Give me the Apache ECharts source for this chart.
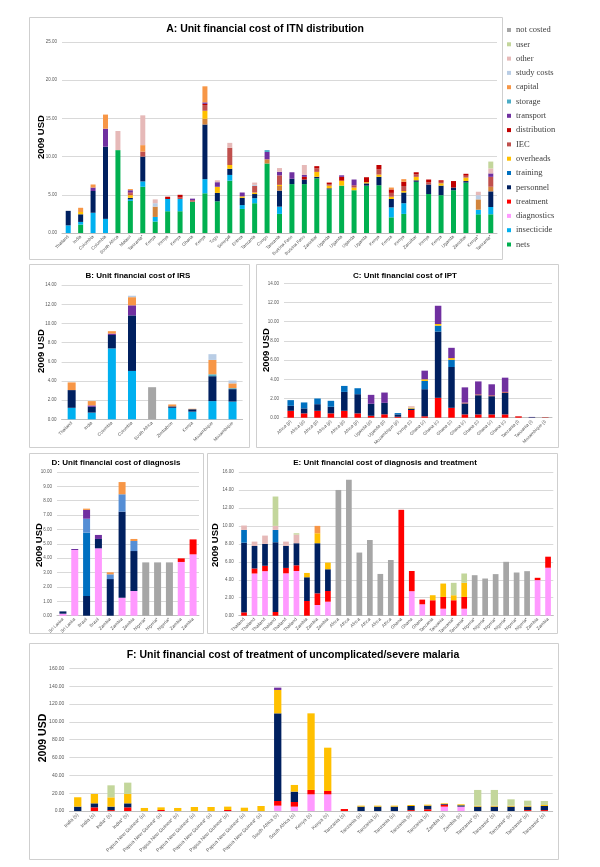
<!DOCTYPE html>
<html><head><meta charset="utf-8">
<script src="https://cdn.jsdelivr.net/npm/echarts/dist/echarts.min.js"></script>
<style>html,body{margin:0;padding:0;background:#fff}#c{width:600px;height:867px}</style>
</head><body><div id="c"></div><script>
// ---------- Panel A: ITN distribution ----------
const aCats = ['Thailand','India','Colombia','Colombia','South Africa','Malawi','Tanzania*','Kenya','Kenya','Kenya','Ghana','Kenya','Togo','Senegal','Eritrea','Tanzania','Congo','Tanzania','Burkina Faso','Burkina Faso','Zanzibar','Uganda','Uganda','Uganda','Uganda','Kenya','Kenya','Kenya','Zanzibar','Kenya','Kenya','Uganda','Zanzibar','Kenya*','Tanzania*'];
const aNets        = [0,1.1,0,0,10.85,4.2,6.05,1.5,2.85,2.85,4.1,5.2,4.15,6.85,3.15,3.9,9.1,2.5,6.4,6.4,7.15,5.7,6.2,5.6,6.2,6.25,2.05,2.5,6.7,5.1,4.95,5.6,6.6,2.45,2.45];
const aInsecticide = [1.0,0.35,2.65,1.85,0,0.2,0.7,0.6,1.6,1.6,0,1.85,0,0.75,0.5,0.65,0,0.95,0,0,0,0,0,0,0,0,1.3,1.4,0,0,0,0,0,0.6,0.95];
const aPersonnel   = [1.9,1.0,2.85,9.45,0,0.2,3.25,0,0,0,0,7.15,1.1,0.8,0.95,0.55,0,2.1,0.7,0.6,0.2,0.15,0,0,0.3,1.1,1.1,1.4,0.2,1.25,1.25,0.35,0.2,0,2.05];
const aSupervision = [0,0,0,0,0,0,0,1.35,0,0,0,0.75,0,0,0,0,0.55,0.6,0,0,0,0,0,0,0,0,0,0,0,0,0,0,0,1.35,0.6];
const aOverheads   = [0,0.3,0,0,0,0.35,0,0,0,0,0,1.05,0.8,0.5,0.2,0.2,0,0.15,0,0,0.65,0.35,0.65,0.35,0.15,0.3,0.3,0.2,0.45,0,0.3,0,0.45,0,0];
const aIEC         = [0,0,0,0,0,0.25,0.65,0,0,0.2,0.2,0.75,0,2.25,0,0.85,0,1.25,0,0,0.45,0.2,0,0.3,0,0.7,0.5,0.65,0.35,0.3,0.2,0,0.25,0,1.3];
const aDistribution= [0,0,0,0,0,0.1,0,0,0.3,0.35,0,0.15,0,0,0,0,0,0,0,0.35,0.3,0.2,0.5,0,0.65,0.55,0.45,0.55,0.25,0.35,0.2,0.85,0.25,0,0];
const aTransport   = [0,0,0.45,2.35,0,0.3,0,0,0,0,0.2,0.2,0.6,0,0.5,0,0.95,0.45,0.85,0.25,0,0,0.2,0.75,0,0,0,0,0,0,0,0,0,0,0.45];
const aStorage     = [0,0,0,0,0,0,0,0,0,0,0,0,0,0,0,0,0.25,0,0,0,0,0,0,0,0,0,0,0,0,0,0,0,0,0,0];
const aCapital     = [0,0.55,0.4,1.85,0,0.15,0.85,0,0,0,0,2.1,0,0,0,0,0,0,0,0,0,0,0,0,0,0,0.25,0.35,0,0,0,0,0,0,0];
const aStudy       = [0,0,0,0,0,0,0,0.45,0,0,0,0,0,0,0,0.15,0,0,0,0,0,0,0,0,0,0,0,0,0,0,0,0,0,0.55,0];
const aOther       = [0,0,0,0,2.5,0,3.9,0.5,0,0,0,0,0.25,0.65,0,0.3,0,0.5,0,1.3,0,0,0,0,0,0,0,0,0,0,0,0,0,0.45,0.65];
const aUser        = [0,0,0,0,0,0,0,0,0,0,0,0,0,0,0,0,0,0,0,0,0,0,0,0,0,0,0,0,0,0,0,0,0,0,0.9];
const legendNames = ['not costed','user','other','study costs','capital','storage','transport','distribution','IEC','overheads','training','personnel','treatment','diagnostics','insecticide','nets'];

// ---------- Panel B: IRS ----------
const bCats = ['Thailand','India','Colombia','Colombia','South Africa','Zimbabwe','Kenya','Mozambique','Mozambique'];
const bInsecticide = [1.2,0.7,7.4,5.05,0,1.2,0.8,1.9,1.85];
const bPersonnel   = [1.85,0.6,1.4,5.8,0,0.15,0.25,2.6,1.3];
const bTransport   = [0,0.15,0.15,1.05,0,0,0,0,0];
const bStorage     = [0,0,0,0,0,0,0,0.2,0.1];
const bCapital     = [0.8,0.45,0.25,0.85,0,0.2,0.05,1.5,0.5];
const bStudy       = [0,0,0,0.15,0,0,0,0.6,0.3];
const bNotCosted   = [0,0,0,0,3.35,0,0,0,0];

// ---------- Panel C: IPT ----------
const cCats = ['Africa (p)','Africa (p)','Africa (p)','Africa (p)','Africa (p)','Africa (p)','Uganda (p)','Uganda (p)','Mozambique (p)','Kenya (c)','Ghana (c)','Ghana (c)','Ghana (c)','Ghana (c)','Ghana (c)','Ghana (c)','Ghana (c)','Tanzania (i)','Tanzania (i)','Mozambique (i)'];
const cTreatment = [0.72,0.45,0.72,0.45,0.72,0.45,0.2,0.35,0.1,0.8,0.15,2.07,1.03,0.34,0.34,0.34,0.34,0.14,0,0];
const cPersonnel = [0.52,0.52,0.69,0.69,1.97,2.0,1.25,1.2,0.24,0.15,2.82,6.9,4.25,1.14,2.0,1.9,2.25,0,0.05,0];
const cTraining  = [0.59,0.62,0.59,0.62,0.62,0.62,0,0,0.14,0,0.86,0.62,0.75,0,0,0,0,0,0,0];
const cOverheads = [0,0,0,0,0,0,0,0,0,0.1,0.17,0.17,0.18,0,0,0,0,0,0,0];
const cIEC       = [0,0,0,0,0,0,0,0,0,0,0,0,0,0.1,0.1,0.1,0.1,0.03,0,0.07];
const cTransport = [0,0,0,0,0,0,0.93,1.07,0,0,0.9,1.9,1.07,1.58,1.34,1.14,1.48,0,0.03,0];
const cOther     = [0,0,0,0,0,0,0,0,0,0.15,0,0,0,0,0,0,0,0,0,0];

// ---------- Panel D: diagnosis ----------
const dCats = ['Sri Lanka','Sri Lanka','Brazil','Brazil','Zambia','Zambia','Zambia','Nigeria*','Nigeria*','Nigeria*','Zambia','Zambia'];
const dDiagnostics = [0.14,4.57,0,4.69,0,1.25,1.72,0,0,0,3.74,4.27];
const dTreatment   = [0,0,0,0,0,0,0,0,0,0,0.25,1.04];
const dPersonnel   = [0.16,0,1.37,0.65,2.55,5.99,2.78,0,0,0,0,0];
const dTraining    = [0,0,4.41,0,0,0,0,0,0,0,0,0];
const dManagement  = [0,0,0.97,0,0.33,1.21,0.7,0,0,0,0,0];
const dTransport   = [0,0.07,0.61,0.28,0,0,0,0,0,0,0,0];
const dCapital     = [0,0,0.09,0,0.14,0.85,0.14,0,0,0,0,0];
const dNotCosted   = [0,0,0,0,0,0,0,3.71,3.71,3.71,0,0];

// ---------- Panel E: diagnosis and treatment ----------
const eCats = ['Thailand','Thailand','Thailand','Thailand','Thailand','Thailand','Zambia','Zambia','Zambia','Africa','Africa','Africa','Africa','Africa','Africa','Ghana','Ghana','Ghana','Tanzania','Tanzania','Tanzania*','Tanzania*','Nigeria*','Nigeria*','Nigeria*','Nigeria*','Nigeria*','Nigeria*','Zambia','Zambia'];
const eDiagnostics = [0,4.7,4.96,0,4.72,4.98,0,1.19,1.56,0,0,0,0,0,0,0,2.73,1.27,0,0.78,0,0.78,0,0,0,0,0,0,3.96,5.34];
const eTreatment   = [0.37,0.56,0.6,0.41,0.6,0.63,1.64,1.3,1.19,0,0,0,0,0,0,11.79,2.25,0.52,1.72,1.31,1.72,1.31,0,0,0,0,0,0,0.26,1.23];
const ePersonnel   = [7.76,2.5,2.43,7.77,2.45,2.46,2.64,5.58,2.42,0,0,0,0,0,0,0,0,0,0,0,0,0,0,0,0,0,0,0,0,0];
const eTraining    = [1.42,0,0,1.37,0,0,0,0,0,0,0,0,0,0,0,0,0,0,0,0,0,0,0,0,0,0,0,0,0,0];
const eOverheads   = [0,0,0,0,0,0,0.48,1.11,0.74,0,0,0,0,0,0,0,0,0,0.56,1.49,0.56,1.57,0,0,0,0,0,0,0,0];
const eCapital     = [0,0,0,0,0,0,0,0.82,0,0,0,0,0,0,0,0,0,0,0,0,0,0,0,0,0,0,0,0,0,0];
const eOther       = [0.49,0.49,0.93,0.45,0.48,0.96,0,0,0,0,0,0,0,0,0,0,0,0,0,0,0,0,0,0,0,0,0,0,0,0];
const eUser        = [0,0,0,3.27,0,0.15,0,0,0,0,0,0,0,0,0,0,0,0,0,0,1.38,1.04,0,0,0,0,0,0,0,0];
const eNotCosted   = [0,0,0,0,0,0,0,0,0,14.0,15.15,7.03,8.43,4.65,6.2,0,0,0,0,0,0,0,4.51,4.14,4.63,6.0,4.81,4.96,0,0];

// ---------- Panel F: treatment ----------
const fCats = ['India (s)','India (s)','India* (s)','India* (s)','Papua New Guinea* (u)','Papua New Guinea* (u)','Papua New Guinea* (u)','Papua New Guinea* (u)','Papua New Guinea* (u)','Papua New Guinea* (u)','Papua New Guinea* (u)','Papua New Guinea* (u)','South Africa (s)','South Africa (s)','Kenya (s)','Kenya (s)','Tanzania (s)','Tanzania (u)','Tanzania (u)','Tanzania (u)','Tanzania (u)','Tanzania (u)','Zambia (u)','Zambia (u)','Tanzania* (s)','Tanzania* (s)','Tanzania* (u)','Tanzania* (u)','Tanzania* (s)'];
const fDiagnostics = [0,0,0,0,0,0,0,0,0,0,0,0,6.0,4.9,18.7,18.7,0,0,0,0,0,0,4.9,4.9,0,0,0,0,0];
const fTreatment   = [0,4.1,1.0,4.1,0,1.1,0,0,0,1.1,0,0,5.2,5.2,4.9,3.7,2.2,0,0,0,1.0,1.9,2.2,0,0,0,0,1.0,1.0];
const fPersonnel   = [4.9,4.5,3.9,4.5,0,0,0,0,0,0,0,0,98.3,11.6,0,0,0,4.9,4.9,4.9,4.6,4.1,0.8,1.5,4.9,4.9,4.9,3.9,4.6];
const fOverheads   = [10.5,10.5,10.4,10.5,3.4,3.0,3.4,4.5,4.5,3.8,3.7,5.6,26.2,7.5,85.9,48.6,0,1.1,1.1,1.1,1.1,1.1,0.7,1.1,1.1,1.1,1.1,1.1,1.1];
const fTransport   = [0,0,0,0,0,0,0,0,0,0,0,0,2.6,0,0,0,0,0,0,0,0,0,0,0,0,0,0,0,0];
const fUser        = [0,0,13.5,12.7,0,0,0,0,0,0,0,0,0,0,0,0,0,0,0,0,0,0,0,0,17.6,17.6,7.1,5.6,4.5];

// ---------- styling ----------
const COLORS = {
  'nets':'#00B050','insecticide':'#00B0F0','diagnostics':'#FF99FF','treatment':'#FF0000',
  'personnel':'#002060','training':'#0070C0','supervision':'#D2843C','management':'#558ED5',
  'overheads':'#FFC000','IEC':'#C0504D','distribution':'#C00000','transport':'#7030A0',
  'storage':'#4BACC6','capital':'#F79646','study costs':'#B9CDE5','other':'#E6B9B8',
  'user':'#C3D69B','not costed':'#A6A6A6'
};
const NARROW = "'Liberation Sans Narrow','Liberation Sans',Arial,sans-serif";
const SANS = "'Liberation Sans',Arial,sans-serif";

const panels = [
  {grid:{left:62,right:103,top:42,bottom:634}, cats:aCats, max:25, interval:5, bw:5, lf:4.5,
   series:[['nets',aNets],['insecticide',aInsecticide],['personnel',aPersonnel],['supervision',aSupervision],['overheads',aOverheads],['IEC',aIEC],['distribution',aDistribution],['transport',aTransport],['storage',aStorage],['capital',aCapital],['study costs',aStudy],['other',aOther],['user',aUser]]},
  {grid:{left:61.6,right:357.4,top:285.2,bottom:447.7}, cats:bCats, max:14, interval:2, bw:8, lf:4.5,
   series:[['insecticide',bInsecticide],['personnel',bPersonnel],['transport',bTransport],['storage',bStorage],['capital',bCapital],['study costs',bStudy],['not costed',bNotCosted]]},
  {grid:{left:284,right:48,top:283.3,bottom:449.3}, cats:cCats, max:14, interval:2, bw:6.5, lf:4.5,
   series:[['treatment',cTreatment],['personnel',cPersonnel],['training',cTraining],['overheads',cOverheads],['IEC',cIEC],['transport',cTransport],['other',cOther]]},
  {grid:{left:57,right:401,top:472,bottom:251.3}, cats:dCats, max:10, interval:1, bw:7, lf:4.5,
   series:[['diagnostics',dDiagnostics],['treatment',dTreatment],['personnel',dPersonnel],['training',dTraining],['management',dManagement],['transport',dTransport],['capital',dCapital],['not costed',dNotCosted]]},
  {grid:{left:238.8,right:46.7,top:472,bottom:251.3}, cats:eCats, max:16, interval:2, bw:5.7, lf:4.5,
   series:[['diagnostics',eDiagnostics],['treatment',eTreatment],['personnel',ePersonnel],['training',eTraining],['overheads',eOverheads],['capital',eCapital],['other',eOther],['user',eUser],['not costed',eNotCosted]]},
  {grid:{left:69.4,right:47.3,top:668.3,bottom:56}, cats:fCats, max:160, interval:20, bw:7.3, lf:5,
   series:[['diagnostics',fDiagnostics],['treatment',fTreatment],['personnel',fPersonnel],['overheads',fOverheads],['transport',fTransport],['user',fUser]]}
];

const grid=[], xAxis=[], yAxis=[], series=[];
panels.forEach((p,i)=>{
  grid.push(Object.assign({containLabel:false, outerBoundsMode:'none'}, p.grid));
  xAxis.push({type:'category', gridIndex:i, data:p.cats,
    axisLine:{show:true, lineStyle:{color:'#BFBFBF', width:1}}, axisTick:{show:false},
    axisLabel:{interval:0, rotate:45, fontSize:p.lf, fontFamily:SANS, color:'#595959', margin:3}});
  yAxis.push({type:'value', gridIndex:i, min:0, max:p.max, interval:p.interval,
    axisLine:{show:false}, axisTick:{show:false},
    splitLine:{show:true, lineStyle:{color:'#D9D9D9', width:1}},
    axisLabel:{fontSize:p.lf, fontFamily:SANS, color:'#595959', margin:5, formatter:v=>v.toFixed(2)}});
  p.series.forEach(([name,data])=>{
    series.push({type:'bar', name:name, xAxisIndex:i, yAxisIndex:i, stack:'s'+i, data:data,
      barWidth:p.bw, itemStyle:{color:COLORS[name]}, silent:true, animation:false});
  });
});

function txt(x,y,text,font,rot,fill){
  return {type:'text', x:x, y:y, rotation:rot||0, silent:true,
    style:{text:text, font:font, fill:fill||'#000', textAlign:'center', textVerticalAlign:'middle', align:'center', verticalAlign:'middle'}};
}
function box(x1,y1,x2,y2){
  return {type:'rect', silent:true, z:-10, shape:{x:x1+0.5,y:y1+0.5,width:x2-x1,height:y2-y1},
    style:{fill:'none', stroke:'#CFCFCF', lineWidth:1}};
}
const R = Math.PI/2;
const graphic = [
  box(29,17,502,259), box(29,264,249,447), box(256,264,558,447),
  box(29,453,203,633), box(207,453,557,633), box(29,643,558,859),
  txt(265,29,'A: Unit financial cost of ITN distribution','bold 10.5px '+NARROW),
  txt(138,276,'B: Unit financial cost of IRS','bold 8px '+NARROW),
  txt(405,276,'C: Unit financial cost of IPT','bold 8px '+NARROW),
  txt(116,463,'D: Unit financial cost of diagnosis','bold 8px '+NARROW),
  txt(385,463,'E: Unit financial cost of diagnosis and treatment','bold 8px '+NARROW),
  txt(293,655,'F: Unit financial cost of treatment of uncomplicated/severe malaria','bold 10.5px '+NARROW),
  txt(41,137,'2009 USD','bold 9.5px '+NARROW,R),
  txt(41,351,'2009 USD','bold 9.5px '+NARROW,R),
  txt(266,350,'2009 USD','bold 9.5px '+NARROW,R),
  txt(39,545,'2009 USD','bold 9.5px '+NARROW,R),
  txt(215,545,'2009 USD','bold 9.5px '+NARROW,R),
  txt(43,738,'2009 USD','bold 10.5px '+NARROW,R)
];

const chart = echarts.init(document.getElementById('c'), null, {renderer:'canvas'});
chart.setOption({
  backgroundColor:'#ffffff',
  animation:false,
  grid:grid, xAxis:xAxis, yAxis:yAxis, series:series, graphic:graphic,
  legend:{orient:'vertical', left:507, top:25, padding:0, itemWidth:4, itemHeight:4, itemGap:4.3,
    icon:'rect', data:legendNames, selectedMode:false,
    textStyle:{fontSize:8.5, fontFamily:'Liberation Sans Narrow', color:'#404040', lineHeight:10, height:10}}
});
</script></body></html>
